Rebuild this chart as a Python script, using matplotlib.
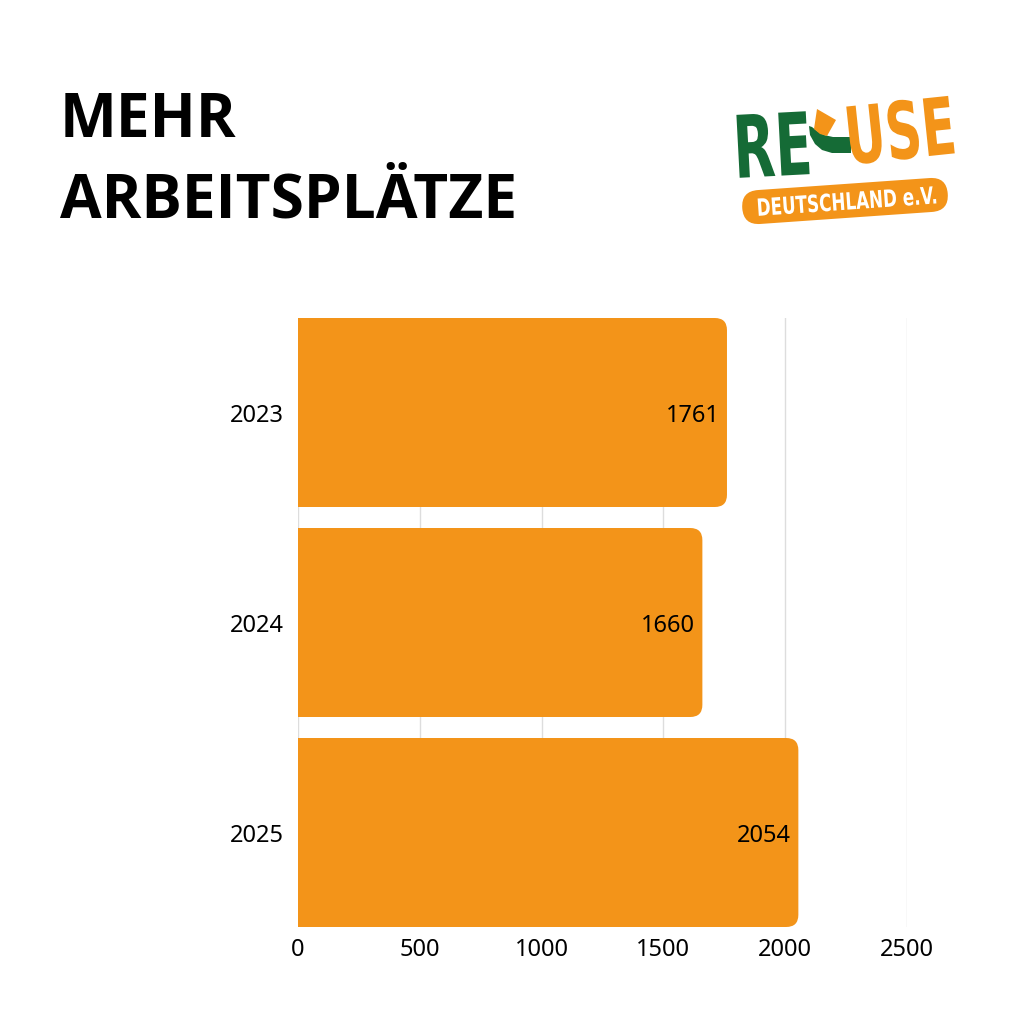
import matplotlib.pyplot as plt
from matplotlib.patches import FancyBboxPatch, Polygon, PathPatch
from matplotlib.textpath import TextPath
from matplotlib.font_manager import FontProperties
from matplotlib.transforms import Affine2D

years = ['2023', '2024', '2025']
jobs = [1761, 1660, 2054]
xticks = [0, 500, 1000, 1500, 2000, 2500]

orange = '#F39419'
green = '#156B36'

fig = plt.figure(figsize=(10.24, 10.24), dpi=100)
fig.patch.set_facecolor('white')

# title
fig.text(60 / 1024, 1 - 137 / 1024, 'MEHR', fontsize=43.5, fontweight='bold',
         family='Open Sans', va='baseline', ha='left')
fig.text(60 / 1024, 1 - 218 / 1024, 'ARBEITSPLÄTZE', fontsize=43.5, fontweight='bold',
         family='Open Sans', va='baseline', ha='left')

# chart
ax = fig.add_axes([298 / 1024, 1 - 927 / 1024, 609 / 1024, 609 / 1024])
ypos = list(range(len(years)))
h = 0.9
for y, v in zip(ypos, jobs):
    box = FancyBboxPatch((-200, y - h / 2), v + 200, h,
                         boxstyle='round,pad=0,rounding_size=50',
                         mutation_aspect=0.00116,
                         fc=orange, ec='none', zorder=3)
    ax.add_patch(box)
    ax.text(v - 30, y, str(v), ha='right', va='center_baseline', fontsize=17,
            family='Noto Sans', color='black', zorder=4)

ax.set_xlim(0, 2500)
ax.set_ylim(len(years) - 0.55, -0.45)
ax.set_xticks(xticks)
ax.set_xticklabels([str(t) for t in xticks], fontsize=17, family='Noto Sans')
ax.set_yticks(ypos)
ax.set_yticklabels(years, fontsize=17, family='Noto Sans')
ax.tick_params(axis='both', length=0)
ax.tick_params(axis='x', pad=8)
ax.tick_params(axis='y', pad=10)
ax.grid(axis='x', color='#dddddd', linewidth=1, zorder=0)
ax.set_axisbelow(True)
for s in ax.spines.values():
    s.set_visible(False)

# logo (pixel coordinates, y pointing down)
lg = fig.add_axes([725 / 1024, 1 - 230 / 1024, 240 / 1024, 145 / 1024])
lg.set_xlim(725, 965)
lg.set_ylim(230, 85)
lg.axis('off')
bold = FontProperties(family='DejaVu Sans', weight='bold')


def fit_text(s, x0, y0, x1, y1, color, angle):
    tp = TextPath((0, 0), s, size=100, prop=bold)
    ext = tp.get_extents()
    sx = (x1 - x0) / ext.width
    sy = (y1 - y0) / ext.height
    cx, cy = (x0 + x1) / 2, (y0 + y1) / 2
    tr = (Affine2D().translate(-ext.x0 - ext.width / 2, -ext.y0 - ext.height / 2)
          .scale(sx, -sy).rotate_deg(-angle).translate(cx, cy))
    lg.add_patch(PathPatch(tr.transform_path(tp), fc=color, ec='none', zorder=5))


fit_text('RE', 738, 113, 808, 176, green, 3)
lg.add_patch(Polygon([(809, 126), (810, 135), (815, 144), (822, 150), (832, 153),
                      (851, 153), (851, 137), (833, 137), (824, 135), (817, 131),
                      (812, 127)], closed=True, fc=green, ec='none', zorder=4))
lg.add_patch(Polygon([(817, 109), (836, 120), (827, 136), (820, 134), (814, 129)],
                     closed=True, fc=orange, ec='none', zorder=6))
fit_text('USE', 849, 100, 952, 160, orange, 6)

pill = FancyBboxPatch((742, 184), 206, 34, boxstyle='round,pad=0,rounding_size=17',
                      fc=orange, ec='none', zorder=4)
pill.set_transform(Affine2D().rotate_deg_around(845, 201, -4) + lg.transData)
lg.add_patch(pill)
fit_text('DEUTSCHLAND e.V.', 758, 192, 936, 210, 'white', 4)

fig.savefig('out.png', dpi=100, facecolor='white')
